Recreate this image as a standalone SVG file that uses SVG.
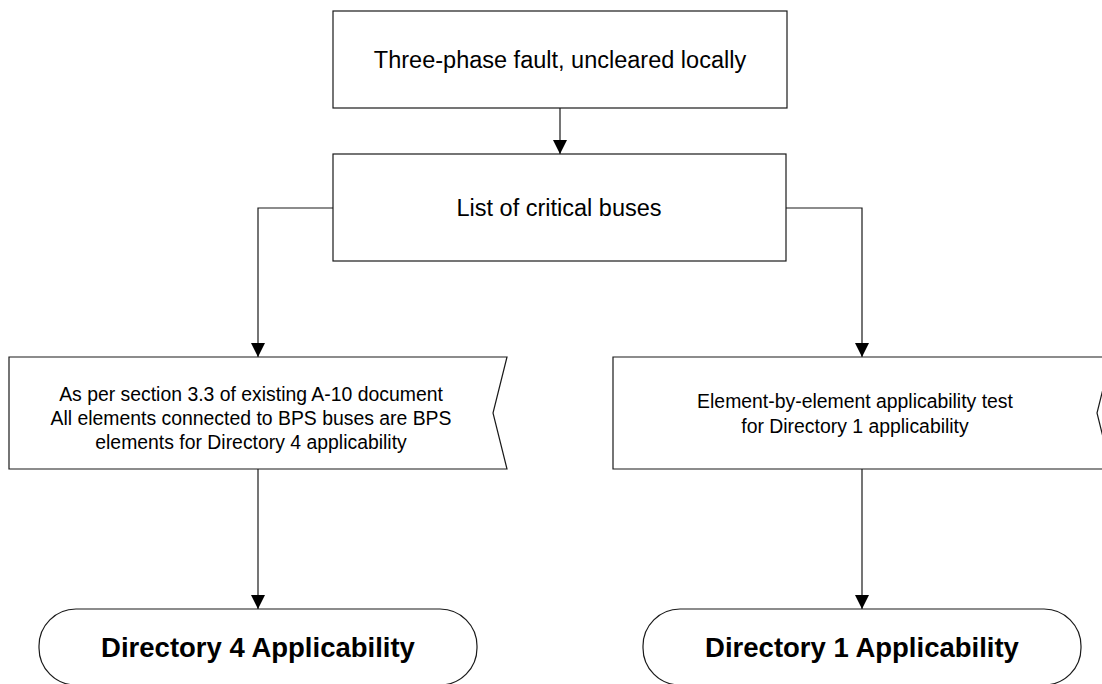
<svg xmlns="http://www.w3.org/2000/svg" width="1102" height="684" viewBox="0 0 1102 684">
  <defs>
    <marker id="arrow" markerUnits="userSpaceOnUse" markerWidth="14" markerHeight="14" viewBox="0 0 14 14" refX="14" refY="7" orient="auto">
      <path d="M0,0 L14,7 L0,14 z" fill="#000"/>
    </marker>
    <style>
      .shape { fill: #fff; stroke: #1a1a1a; stroke-width: 1.2; }
      .conn { fill: none; stroke: #1a1a1a; stroke-width: 1.2; marker-end: url(#arrow); }
      .lbl { font-family: "Liberation Sans", Arial, sans-serif; fill: #000; text-anchor: middle; dominant-baseline: central; }
      .big { font-size: 23.5px; }
      .small { font-size: 19.4px; }
      .term { font-size: 27.5px; font-weight: bold; }
    </style>
  </defs>

  <rect width="1102" height="684" fill="#fff"/>

  <!-- connectors -->
  <g id="connectors">
    <path class="conn" d="M560,108 V154"/>
    <path class="conn" d="M333,208 H258 V357"/>
    <path class="conn" d="M786,208 H862 V357"/>
    <path class="conn" d="M258,469 V609"/>
    <path class="conn" d="M862,469 V609"/>
  </g>

  <!-- top process box -->
  <g id="fault">
    <rect class="shape" x="333" y="11" width="454" height="97"/>
    <text class="lbl big" x="560" y="60">Three-phase fault, uncleared locally</text>
  </g>

  <g id="critical-buses">
    <rect class="shape" x="333" y="154" width="453" height="107"/>
    <text class="lbl big" x="559" y="208">List of critical buses</text>
  </g>

  <!-- flag-shaped decision notes -->
  <g id="section-3-3">
    <path class="shape" d="M9,357 H507 L493,413 L507,469 H9 Z"/>
    <text class="lbl small" x="251" y="394">As per section 3.3 of existing A-10 document</text>
    <text class="lbl small" x="251" y="418">All elements connected to BPS buses are BPS</text>
    <text class="lbl small" x="251" y="442">elements for Directory 4 applicability</text>
  </g>

  <g id="element-test">
    <path class="shape" d="M613,357 H1111 L1097,413 L1111,469 H613 Z"/>
    <text class="lbl small" x="855" y="401">Element-by-element applicability test</text>
    <text class="lbl small" x="855" y="426">for Directory 1 applicability</text>
  </g>

  <!-- terminators -->
  <g id="directory-4">
    <rect class="shape" x="39" y="609" width="438" height="76" rx="37" ry="37"/>
    <text class="lbl term" x="258" y="647">Directory 4 Applicability</text>
  </g>

  <g id="directory-1">
    <rect class="shape" x="643" y="609" width="438" height="76" rx="37" ry="37"/>
    <text class="lbl term" x="862" y="647">Directory 1 Applicability</text>
  </g>
</svg>
